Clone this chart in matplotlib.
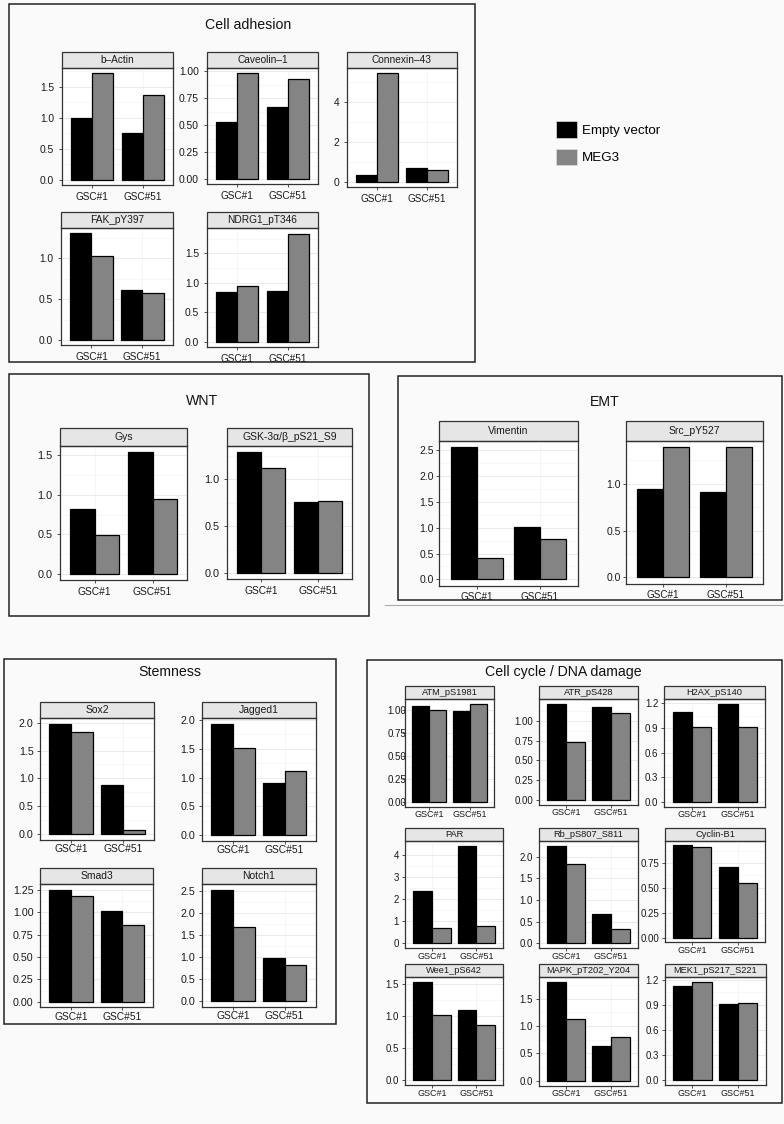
import matplotlib
matplotlib.use('Agg')
import matplotlib.pyplot as plt
from matplotlib.patches import Rectangle, Patch
import numpy as np

plt.rcParams['font.family'] = ['Liberation Sans', 'DejaVu Sans']

cell_lines = ['GSC#1', 'GSC#51']
series_names = ['Empty vector', 'MEG3']

proteins = ['b–Actin', 'Caveolin–1', 'Connexin–43', 'FAK_pY397', 'NDRG1_pT346',
            'Gys', 'GSK-3α/β_pS21_S9',
            'Vimentin', 'Src_pY527',
            'Sox2', 'Jagged1', 'Smad3', 'Notch1',
            'ATM_pS1981', 'ATR_pS428', 'H2AX_pS140',
            'PAR', 'Rb_pS807_S811', 'Cyclin-B1',
            'Wee1_pS642', 'MAPK_pT202_Y204', 'MEK1_pS217_S221']

# values for (GSC#1, GSC#51)
empty_vector = [[1.00, 0.76], [0.53, 0.67], [0.33, 0.69], [1.31, 0.61], [0.84, 0.86],
                [0.82, 1.54], [1.29, 0.76],
                [2.56, 1.02], [0.94, 0.91],
                [1.98, 0.88], [1.93, 0.91], [1.25, 1.015], [2.53, 0.975],
                [1.04, 0.99], [1.21, 1.17], [1.09, 1.19],
                [2.36, 4.42], [2.26, 0.68], [0.928, 0.706],
                [1.525, 1.09], [1.80, 0.64], [1.13, 0.908]]
meg3 = [[1.72, 1.37], [0.98, 0.93], [5.44, 0.57], [1.03, 0.576], [0.94, 1.835],
        [0.49, 0.95], [1.125, 0.768],
        [0.42, 0.79], [1.39, 1.39],
        [1.84, 0.065], [1.52, 1.12], [1.18, 0.855], [1.68, 0.82],
        [1.00, 1.06], [0.73, 1.10], [0.915, 0.915],
        [0.71, 0.77], [1.84, 0.32], [0.909, 0.552],
        [1.015, 0.86], [1.13, 0.79], [1.17, 0.92]]

y_ticks = [[0, 0.5, 1.0, 1.5], [0, 0.25, 0.5, 0.75, 1.0], [0, 2, 4], [0, 0.5, 1.0], [0, 0.5, 1.0, 1.5],
           [0, 0.5, 1.0, 1.5], [0, 0.5, 1.0],
           [0, 0.5, 1.0, 1.5, 2.0, 2.5], [0, 0.5, 1.0],
           [0, 0.5, 1.0, 1.5, 2.0], [0, 0.5, 1.0, 1.5, 2.0], [0, 0.25, 0.5, 0.75, 1.0, 1.25], [0, 0.5, 1.0, 1.5, 2.0, 2.5],
           [0, 0.25, 0.5, 0.75, 1.0], [0, 0.25, 0.5, 0.75, 1.0], [0, 0.3, 0.6, 0.9, 1.2],
           [0, 1, 2, 3, 4], [0, 0.5, 1.0, 1.5, 2.0], [0, 0.25, 0.5, 0.75],
           [0, 0.5, 1.0, 1.5], [0, 0.5, 1.0, 1.5], [0, 0.3, 0.6, 0.9, 1.2]]
y_fmt = ['%.1f', '%.2f', '%d', '%.1f', '%.1f',
         '%.1f', '%.1f',
         '%.1f', '%.1f',
         '%.1f', '%.1f', '%.2f', '%.1f',
         '%.2f', '%.2f', '%.1f',
         '%d', '%.1f', '%.2f',
         '%.1f', '%.1f', '%.1f']

groups = ['Cell adhesion', 'WNT', 'EMT', 'Stemness', 'Cell cycle / DNA damage']

# layout in pixels
W, H = 784, 1124
# panel: left, plot top, right, y=0 pixel
boxes = [(62, 68, 173, 180), (207, 68, 318, 179), (347, 68, 457, 181.7), (61, 227.7, 172.7, 340), (207, 228.3, 318, 341.7),
         (60, 446, 187.3, 574), (226.7, 446, 352.3, 573.3),
         (439.3, 440.7, 577.7, 579.3), (625.7, 440.7, 763.3, 577.3),
         (40, 718.3, 154, 834), (201.7, 718.3, 315.7, 835.3), (40, 884.3, 153.3, 1001.7), (201.7, 884.3, 315.7, 1001),
         (405, 699.3, 494.3, 801.7), (539, 699.3, 638.3, 800), (664.3, 699.3, 765, 801.7),
         (405, 840.7, 503.3, 943.3), (539, 840.7, 638.3, 943.3), (665, 840.7, 765, 937.5),
         (405, 977.3, 503.3, 1080), (539, 977.3, 638.3, 1080.7), (665, 977.3, 765.7, 1080)]
panel_group = [0]*5 + [1]*2 + [2]*2 + [3]*4 + [4]*9
strip_h = [16, 18, 20, 16, 13]
ytick_fs = [7.4, 7.8, 7.5, 7.7, 7.0]
xtick_fs = [7.2, 7.4, 7.1, 7.4, 6.5]
xpad = [2.6, 2.6, 2.4, 1.0, 0.4]
ypad = [3.5, 3.0, 1.5, 2.5, 2.2]
strip_fs = [7.3, 7.5, 7.5, 7.5, 6.7]
frames = [(9, 4, 475, 362), (9, 374, 369, 616), (398, 376, 782, 600), (4, 659, 336, 1024), (367, 660, 782, 1103)]
title_pos = [(248, 25), (202, 401), (605, 402), (170, 672), (563, 672)]

bg = '#fafafa'
fig = plt.figure(figsize=(W/100, H/100), dpi=100, facecolor=bg)

# overlay in pixel coordinates for frames and titles
ov = fig.add_axes([0, 0, 1, 1])
ov.set_xlim(0, W)
ov.set_ylim(H, 0)
ov.axis('off')
for (x0, y0, x1, y1) in frames:
    ov.add_patch(Rectangle((x0, y0), x1-x0, y1-y0, fill=False, ec='#222222', lw=1.1))
ov.plot([385, 784], [605, 605], color='#aaaaaa', lw=0.8)
for name, (tx, ty) in zip(groups, title_pos):
    ov.text(tx, ty, name, ha='center', va='center', fontsize=10.2, color='#111111')

x = np.arange(1, len(cell_lines)+1)
bw = 0.42
for i, name in enumerate(proteins):
    g = panel_group[i]
    l, t, r, z = boxes[i]
    b = z + (z - t)*0.05/1.05
    ax = fig.add_axes([l/W, 1-b/H, (r-l)/W, (b-t)/H])
    ax.set_facecolor('white')
    top = max(empty_vector[i] + meg3[i])
    ax.bar(x - bw/2, empty_vector[i], bw, color='black', edgecolor='black', lw=0.9, zorder=3)
    ax.bar(x + bw/2, meg3[i], bw, color='#848484', edgecolor='black', lw=0.9, zorder=3)
    ax.set_xlim(0.4, 2.6)
    ax.set_ylim(-0.05*top, 1.05*top)
    tk = y_ticks[i]
    ax.set_yticks(tk)
    ax.set_yticklabels([y_fmt[i] % v for v in tk])
    minor = [(a+c)/2 for a, c in zip(tk[:-1], tk[1:])]
    if tk[-1] + (tk[1]-tk[0])/2 < 1.05*top:
        minor.append(tk[-1] + (tk[1]-tk[0])/2)
    ax.set_yticks(minor, minor=True)
    ax.set_xticks(x)
    ax.set_xticklabels(cell_lines)
    ax.grid(axis='y', which='major', color='#ebebeb', lw=0.7, zorder=0)
    ax.grid(axis='y', which='minor', color='#f4f4f4', lw=0.5, zorder=0)
    ax.grid(axis='x', which='major', color='#f2f2f2', lw=0.6, zorder=0)
    ax.tick_params(which='major', length=2.2, width=0.6, color='#333333',
                   labelcolor='#1a1a1a')
    ax.tick_params(axis='y', labelsize=ytick_fs[g], pad=ypad[g])
    ax.tick_params(axis='x', labelsize=xtick_fs[g], pad=xpad[g])
    ax.tick_params(which='minor', length=0)
    if name == 'ATM_pS1981':
        # labels run over the axis line in this panel
        ax.tick_params(axis='y', pad=-3.2)
    for s in ax.spines.values():
        s.set_color('#333333')
        s.set_linewidth(0.9)
    hpx = b - t
    sh = strip_h[g] / hpx
    ax.add_patch(Rectangle((0, 1), 1, sh, transform=ax.transAxes, clip_on=False,
                           fc='#e6e6e6', ec='#333333', lw=0.9))
    ax.text(0.5, 1 + sh/2, name, transform=ax.transAxes, ha='center', va='center',
            fontsize=strip_fs[g], color='#1a1a1a')

handles = [Patch(fc='black', ec='#dddddd', lw=0.5), Patch(fc='#848484', ec='#dddddd', lw=0.5)]
fig.legend(handles, series_names, loc='upper left', bbox_to_anchor=(551/W, 1-116/H),
           frameon=False, fontsize=9.6, handlelength=1.55, handleheight=1.55,
           handletextpad=0.4, labelspacing=0.8, borderaxespad=0)

fig.savefig('out.png', dpi=100, facecolor=bg)
